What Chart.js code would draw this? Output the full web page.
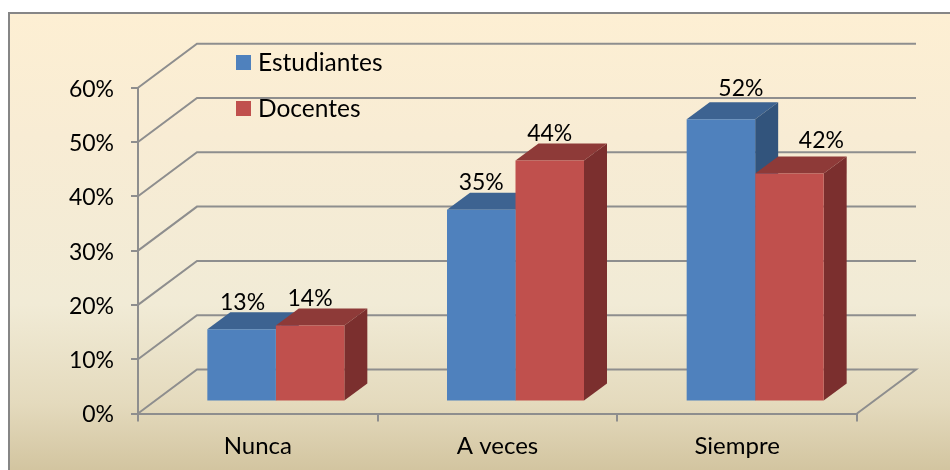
<!DOCTYPE html>
<html><head><meta charset="utf-8">
<style>
html,body{margin:0;padding:0;background:#fff;width:950px;height:470px;overflow:hidden}
#frame{position:absolute;left:8px;top:12px;width:960px;height:480px;border:2px solid #868686;box-sizing:border-box;
background:linear-gradient(to bottom,#fdefd3 0,#f8ecd4 120px,#f1ebd6 290px,#e4dabd 390px,#d2c49f 458px)}
#wrap{position:absolute;left:0;top:0;width:950px;height:470px}
</style>
<script src="https://cdn.jsdelivr.net/npm/chart.js@4"></script>
</head><body>
<div id="frame"></div>
<div id="wrap"><canvas id="c" width="950" height="470"></canvas></div>
<script>
const categories = ['Nunca', 'A veces', 'Siempre'];
const estudiantes = [13.3, 35.3, 52];
const docentes = [14, 44.4, 42];
const seriesNames = ['Estudiantes', 'Docentes'];

const FONT = '23px Lato';
const LEGEND_FONT = '24.5px Lato';
const INK = '#000000';
const AXIS = '#8e8e8e';
const FRONT = ['#4f81bd', '#c0504d'];
const TOP = ['#3d6391', '#8e3a38'];
const SIDE = ['#32547c', '#7b2f2e'];
const WALL = {dx: 59, dy: -44};
const BAR_SHIFT = {dx: 18, dy: -12};
const BAR_DEPTH = {dx: 23, dy: -17};
const LABEL_NUDGE = [[[1, 0], [0, 0]], [[0, 0], [0, 0]], [[20, -4], [32, -6]]];

const scene = {
  id: 'scene',
  beforeDraw(chart) {
    chart.scales.y.getLabelItems().forEach(it => { it.options.translation[1] += 1.5; });
  },
  beforeDatasetsDraw(chart) {
    const {ctx, chartArea: a, scales: {y}} = chart;
    ctx.save();
    ctx.strokeStyle = AXIS; ctx.lineWidth = 2; ctx.lineJoin = 'miter';
    y.ticks.forEach(t => {
      const py = y.getPixelForValue(t.value);
      ctx.beginPath();
      ctx.moveTo(a.left, py);
      ctx.lineTo(a.left + WALL.dx, py + WALL.dy);
      ctx.lineTo(a.right + WALL.dx, py + WALL.dy);
      if (t.value === 0) ctx.lineTo(a.right, py);
      ctx.stroke();
    });
    ctx.restore();
    ctx.save();
    ctx.translate(BAR_SHIFT.dx, BAR_SHIFT.dy);
    chart.data.datasets.forEach((ds, i) => {
      chart.getDatasetMeta(i).data.forEach(b => {
        const l = b.x - b.width / 2, r = b.x + b.width / 2;
        ctx.fillStyle = TOP[i];
        ctx.beginPath();
        ctx.moveTo(l, b.y); ctx.lineTo(l + BAR_DEPTH.dx, b.y + BAR_DEPTH.dy);
        ctx.lineTo(r + BAR_DEPTH.dx, b.y + BAR_DEPTH.dy); ctx.lineTo(r, b.y);
        ctx.closePath(); ctx.fill();
        ctx.fillStyle = SIDE[i];
        ctx.beginPath();
        ctx.moveTo(r, b.y); ctx.lineTo(r + BAR_DEPTH.dx, b.y + BAR_DEPTH.dy);
        ctx.lineTo(r + BAR_DEPTH.dx, b.base + BAR_DEPTH.dy); ctx.lineTo(r, b.base);
        ctx.closePath(); ctx.fill();
      });
    });
  },
  afterDatasetsDraw(chart) {
    const {ctx} = chart;
    ctx.restore();
    ctx.save();
    ctx.font = FONT; ctx.fillStyle = INK;
    ctx.textAlign = 'center'; ctx.textBaseline = 'middle';
    chart.data.datasets.forEach((ds, i) => {
      chart.getDatasetMeta(i).data.forEach((b, j) => {
        const n = LABEL_NUDGE[j][i];
        ctx.fillText(Math.round(ds.data[j]) + '%', b.x + BAR_SHIFT.dx + n[0], b.y + BAR_SHIFT.dy - 27 + n[1]);
      });
    });
    ctx.textAlign = 'left';
    ctx.font = LEGEND_FONT;
    chart.data.datasets.forEach((ds, i) => {
      const top = 55 + i * 46;
      ctx.fillStyle = FRONT[i];
      ctx.fillRect(236, top, 15, 15);
      ctx.fillStyle = INK;
      ctx.fillText(ds.label, 258, top + 8);
    });
    ctx.restore();
  }
};

new Chart(document.getElementById('c'), {
  type: 'bar',
  data: {
    labels: categories,
    datasets: [
      {label: seriesNames[0], data: estudiantes, backgroundColor: FRONT[0]},
      {label: seriesNames[1], data: docentes, backgroundColor: FRONT[1]}
    ]
  },
  options: {
    responsive: false, animation: false,
    layout: {padding: {left: 0, right: 93, top: 87.7, bottom: 0}},
    datasets: {bar: {categoryPercentage: 0.5716, barPercentage: 1, clip: false}},
    plugins: {legend: {display: false}, tooltip: {enabled: false}, title: {display: false}},
    scales: {
      x: {
        afterFit(s) { s.height = 56.5; },
        grid: {offset: true, drawOnChartArea: false, color: AXIS, lineWidth: 2, tickLength: 8},
        border: {color: AXIS, width: 2},
        ticks: {color: INK, font: {family: 'Lato', size: 24}, padding: 10, maxRotation: 0}
      },
      y: {
        min: 0, max: 60,
        afterFit(s) { s.width = 138; },
        grid: {drawOnChartArea: false, color: AXIS, lineWidth: 2, tickLength: 7},
        border: {color: AXIS, width: 2},
        ticks: {stepSize: 10, color: INK, font: {family: 'Lato', size: 23}, padding: 17, callback: v => v + '%'}
      }
    }
  },
  plugins: [scene]
});
</script>
</body></html>
